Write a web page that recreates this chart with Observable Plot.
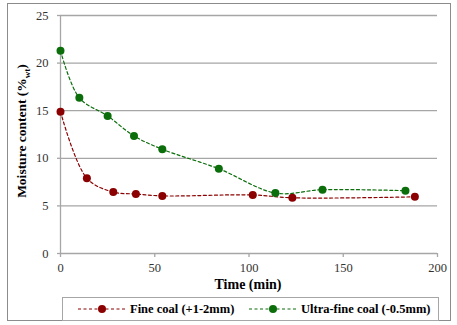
<!DOCTYPE html>
<html>
<head>
<meta charset="utf-8">
<script src="https://cdn.jsdelivr.net/npm/d3@7"></script>
<script src="https://cdn.jsdelivr.net/npm/@observablehq/plot@0.6"></script>
<style>
  html, body { margin: 0; padding: 0; background: #fff; }
  #wrap { position: relative; width: 457px; height: 325px; overflow: hidden; font-family: "Liberation Serif", Tinos, "Times New Roman", "DejaVu Serif", serif; }
  #frame { position: absolute; left: 7px; top: 3px; width: 444px; height: 318px; border: 1px solid #8c8c8c; box-sizing: border-box; }
  #chart { position: absolute; left: 0; top: 0; }
  #ytitle { position: absolute; left: 23px; top: 131px; transform: translate(-50%, -50%) rotate(-90deg); white-space: nowrap; font-weight: bold; font-size: 13.5px; color: #000; }
  #xtitle { position: absolute; left: 248px; top: 277px; transform: translateX(-50%); white-space: nowrap; font-weight: bold; font-size: 14px; color: #000; }
  #legend { position: absolute; left: 62px; top: 297px; width: 377px; height: 24px; border: 1px solid #a6a6a6; box-sizing: border-box; font-weight: bold; font-size: 12.5px; }
  .item { position: absolute; top: 0; height: 22px; display: flex; align-items: center; white-space: nowrap; }
  .item svg { display: block; }
</style>
</head>
<body>
<div id="wrap">
  <div id="frame"></div>
  <div id="chart"></div>
  <div id="ytitle">Moisture content (%<sub style="font-size:9px">wt</sub>)</div>
  <div id="xtitle">Time (min)</div>
  <div id="legend"></div>
</div>
<script>
const seriesNames = ["Fine coal (+1-2mm)", "Ultra-fine coal (-0.5mm)"];
const seriesColors = ["#8b0000", "#0b6e0b"];

const fineTime = [0, 14, 28, 40, 54, 102, 123, 188];
const fineMoisture = [14.9, 7.9, 6.45, 6.25, 6.05, 6.15, 5.85, 5.95];

const ultraTime = [0, 10, 25, 39, 54, 84, 114, 139, 183];
const ultraMoisture = [21.3, 16.35, 14.45, 12.35, 10.95, 8.9, 6.35, 6.7, 6.6];

const xTicks = [0, 50, 100, 150, 200];
const yTicks = [0, 5, 10, 15, 20, 25];

const fine = fineTime.map((t, i) => ({t, m: fineMoisture[i], s: seriesNames[0]}));
const ultra = ultraTime.map((t, i) => ({t, m: ultraMoisture[i], s: seriesNames[1]}));

const gridColor = "#a6a6a6";
const serif = "'Liberation Serif', Tinos, 'Times New Roman', 'DejaVu Serif', serif";

const plot = Plot.plot({
  width: 457,
  height: 325,
  marginLeft: 60,
  marginRight: 20,
  marginTop: 15,
  marginBottom: 72,
  style: {fontFamily: serif, fontSize: "12.5px", color: "#333", background: "transparent"},
  x: {domain: [0, 200]},
  y: {domain: [0, 25]},
  marks: [
    Plot.gridY(yTicks.filter(d => d > 0), {stroke: gridColor, strokeOpacity: 1, strokeWidth: 1.3}),
    Plot.ruleX([0], {stroke: gridColor, strokeWidth: 1.3}),
    Plot.ruleY([0], {stroke: gridColor, strokeWidth: 1.3}),
    Plot.axisY(yTicks, {tickSize: 3, tickPadding: 9, stroke: gridColor, strokeWidth: 1.3, label: null, fill: "#333", fontFamily: serif}),
    Plot.axisX(xTicks, {tickSize: 4, tickPadding: 6, stroke: gridColor, strokeWidth: 1.3, label: null, fill: "#333", fontFamily: serif}),
    Plot.line(fine, {x: "t", y: "m", stroke: seriesColors[0], strokeWidth: 1.2, strokeDasharray: "3,2.5", curve: "catmull-rom"}),
    Plot.line(ultra, {x: "t", y: "m", stroke: seriesColors[1], strokeWidth: 1.2, strokeDasharray: "3,2.5", curve: "catmull-rom"}),
    Plot.dot(fine, {x: "t", y: "m", r: 4, fill: seriesColors[0], stroke: "none"}),
    Plot.dot(ultra, {x: "t", y: "m", r: 4, fill: seriesColors[1], stroke: "none"})
  ]
});
document.getElementById("chart").appendChild(plot);

// legend
const legend = document.getElementById("legend");
const itemLeft = [15, 186];
seriesNames.forEach((name, i) => {
  const item = document.createElement("div");
  item.className = "item";
  item.style.left = itemLeft[i] + "px";
  const sw = d3.create("svg").attr("width", 48).attr("height", 12);
  sw.append("line").attr("x1", 0).attr("x2", 48).attr("y1", 6).attr("y2", 6)
    .attr("stroke", seriesColors[i]).attr("stroke-width", 1.2).attr("stroke-dasharray", "3,2.5");
  sw.append("circle").attr("cx", 24).attr("cy", 6).attr("r", 4).attr("fill", seriesColors[i]);
  item.appendChild(sw.node());
  const label = document.createElement("span");
  label.textContent = name;
  label.style.marginLeft = "4px";
  item.appendChild(label);
  legend.appendChild(item);
});
</script>
</body>
</html>
